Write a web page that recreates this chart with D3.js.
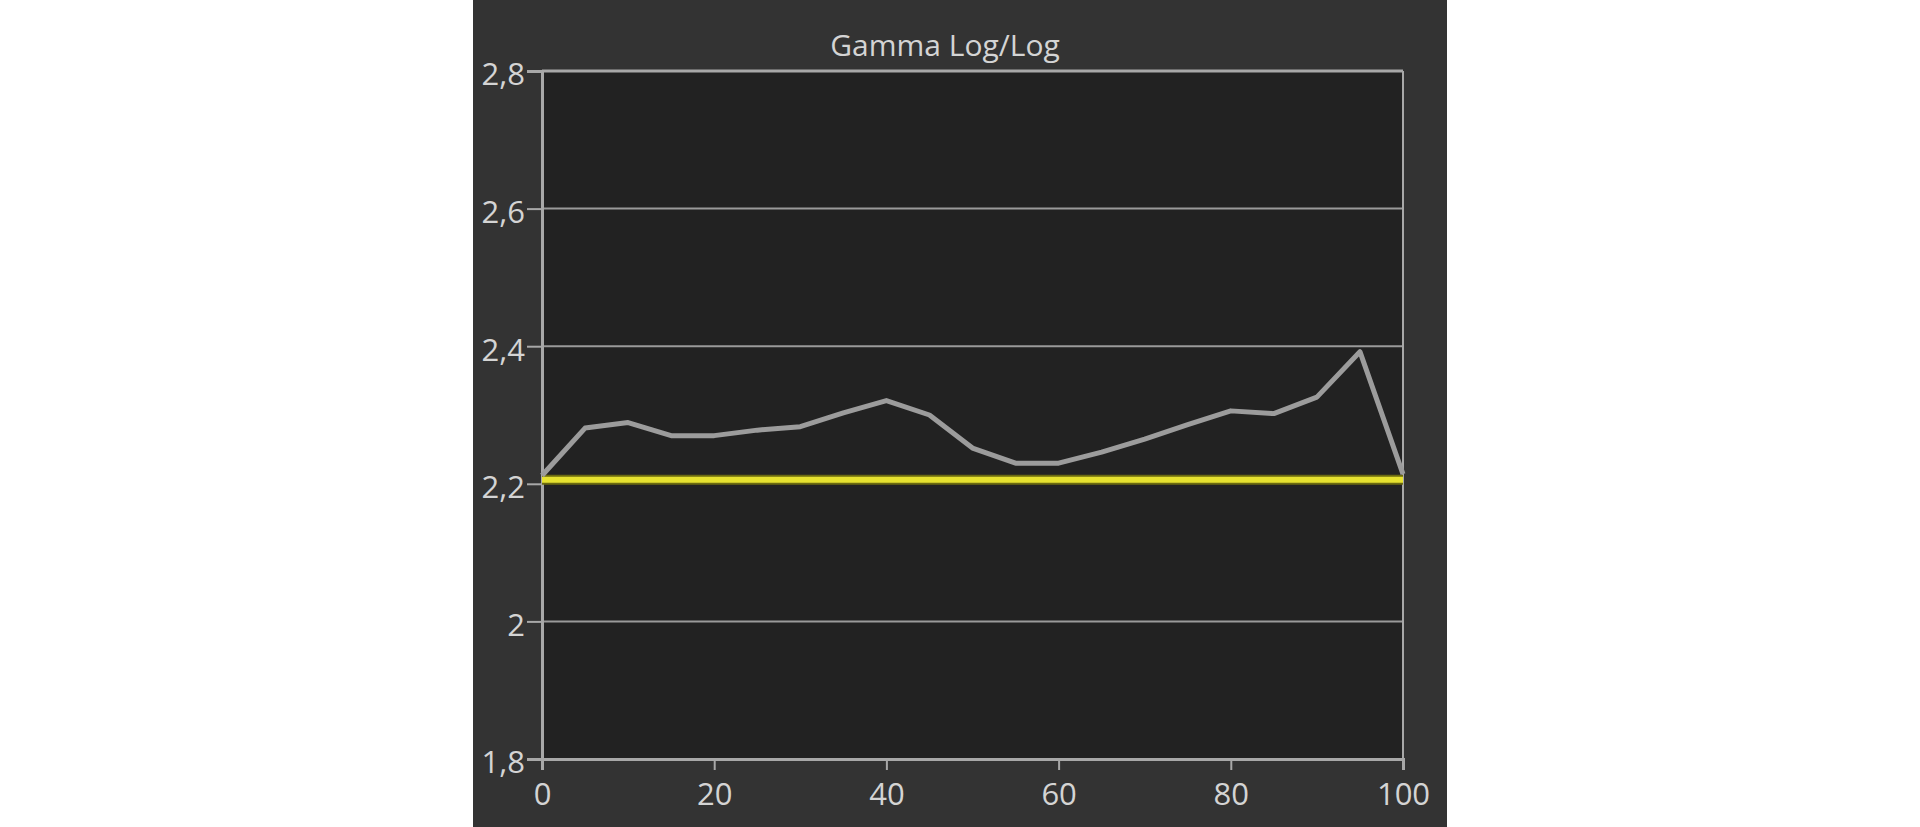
<!DOCTYPE html>
<html>
<head>
<meta charset="utf-8">
<script src="https://cdn.jsdelivr.net/npm/d3@7"></script>
<style>
  html, body { margin: 0; padding: 0; background: #ffffff; }
  svg { display: block; }
</style>
</head>
<body>
<svg id="chart" width="1920" height="827"></svg>
<script>
// ---- data ----
const titleText = "Gamma Log/Log";
const xLevels = [0, 5, 10, 15, 20, 25, 30, 35, 40, 45, 50, 55, 60, 65, 70, 75, 80, 85, 90, 95, 100];
const gammaMeasured = [2.212, 2.281, 2.289, 2.270, 2.270, 2.278, 2.283, 2.303, 2.321, 2.300, 2.252, 2.230, 2.230, 2.246, 2.265, 2.286, 2.306, 2.302, 2.326, 2.392, 2.214];
const gammaTarget = [2.206, 2.206];
const targetX = [0, 100];
const xTicks = [0, 20, 40, 60, 80, 100];
const yTicks = [1.8, 2.0, 2.2, 2.4, 2.6, 2.8];
const yTickLabels = ["1,8", "2", "2,2", "2,4", "2,6", "2,8"];
const yGrid = [2.0, 2.4, 2.6];

// ---- layout ----
const svg = d3.select("#chart");
const panel = { x0: 473, x1: 1447 };
const plot = { left: 542, right: 1403, top: 71, bottom: 759 };

svg.append("rect").attr("x", panel.x0).attr("y", 0)
  .attr("width", panel.x1 - panel.x0).attr("height", 827).attr("fill", "#333333");

const x = d3.scaleLinear().domain([0, 100]).range([plot.left, plot.right]);
const y = d3.scaleLinear().domain([1.8, 2.8]).range([plot.bottom, plot.top]);

svg.append("rect").attr("x", plot.left).attr("y", plot.top)
  .attr("width", plot.right - plot.left).attr("height", plot.bottom - plot.top)
  .attr("fill", "#222222");

const fontFam = "'Open Sans', 'Noto Sans', sans-serif";
const textCol = "#d4d4d4";
const axisCol = "#a8a8a8";

// grid lines
svg.append("g").selectAll("line").data(yGrid).join("line")
  .attr("x1", plot.left).attr("x2", plot.right)
  .attr("y1", d => y(d)).attr("y2", d => y(d))
  .attr("stroke", "#9a9a9a").attr("stroke-width", 2);

// frame top & right
svg.append("line").attr("x1", plot.left).attr("x2", plot.right)
  .attr("y1", plot.top).attr("y2", plot.top)
  .attr("stroke", axisCol).attr("stroke-width", 3);
svg.append("line").attr("x1", plot.right).attr("x2", plot.right)
  .attr("y1", plot.top).attr("y2", plot.bottom)
  .attr("stroke", axisCol).attr("stroke-width", 2);

// axes
const yAxis = d3.axisLeft(y).tickValues(yTicks)
  .tickFormat((d, i) => yTickLabels[i]).tickSizeOuter(0).tickSize(15).tickPadding(2);
const gy = svg.append("g").attr("transform", `translate(${plot.left},0)`).call(yAxis);
const xAxis = d3.axisBottom(x).tickValues(xTicks).tickSizeOuter(0).tickSize(11).tickPadding(13);
const gx = svg.append("g").attr("transform", `translate(0,${plot.bottom})`).call(xAxis);

[gy, gx].forEach(g => {
  g.select(".domain").attr("stroke", axisCol).attr("stroke-width", 3);
  g.selectAll(".tick line").attr("stroke", axisCol).attr("stroke-width", 2);
  g.selectAll(".tick text").attr("fill", textCol)
    .style("font-family", fontFam).style("font-size", "31px");
});
gy.selectAll(".tick text").attr("dy", "0.45em");

// target line
const lineT = d3.line().x((d, i) => x(targetX[i])).y(d => y(d));
svg.append("path").datum(gammaTarget).attr("d", lineT)
  .attr("fill", "none").attr("stroke", "#6b6a10").attr("stroke-width", 10);
svg.append("path").datum(gammaTarget).attr("d", lineT)
  .attr("fill", "none").attr("stroke", "#e6e230").attr("stroke-width", 6);

// measured line
const lineM = d3.line().x((d, i) => x(xLevels[i])).y(d => y(d));
svg.append("path").datum(gammaMeasured).attr("d", lineM)
  .attr("fill", "none").attr("stroke", "#9c9c9c").attr("stroke-width", 5)
  .attr("stroke-linejoin", "round");

// title
svg.append("text").attr("x", 945).attr("y", 56)
  .attr("text-anchor", "middle").attr("fill", textCol)
  .style("font-family", fontFam).style("font-size", "30px")
  .text(titleText);
</script>
</body>
</html>
